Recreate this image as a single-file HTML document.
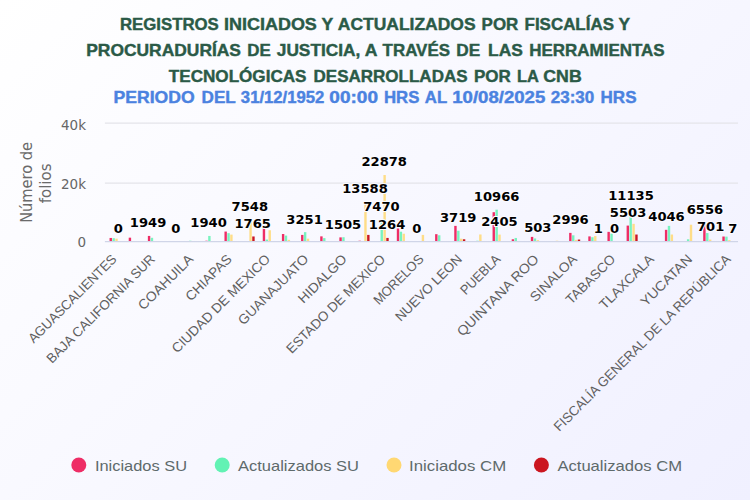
<!DOCTYPE html>
<html lang="es"><head><meta charset="utf-8"><title>Registros</title>
<style>
html,body{margin:0;padding:0;background:#fff}
body{width:750px;height:500px;overflow:hidden}
svg{display:block}
.t{font-family:"Liberation Sans",sans-serif;font-weight:bold;font-size:15.9px;fill:#2b5a47;stroke:#2b5a47;stroke-width:.4px}
.st{font-family:"Liberation Sans",sans-serif;font-weight:bold;font-size:15.9px;fill:#4b82e0;stroke:#4b82e0;stroke-width:.4px}
.yl{font-family:"DejaVu Sans","Liberation Sans",sans-serif;font-size:13.5px;fill:#666;text-anchor:end}
.yt{font-family:"DejaVu Sans","Liberation Sans",sans-serif;font-size:15px;fill:#6a6a6a;text-anchor:middle}
.xl{font-family:"Liberation Sans",sans-serif;font-size:13.5px;fill:#606060;text-anchor:end}
.dl{font-family:"DejaVu Sans","Liberation Sans",sans-serif;font-weight:bold;font-size:13.1px;fill:#000;text-anchor:middle;stroke:#fbfbff;stroke-width:2.2px;stroke-linejoin:round;paint-order:stroke}
.lg{font-family:"Liberation Sans",sans-serif;font-size:15px;fill:#5e6a6b}
</style></head><body>
<svg width="750" height="500" viewBox="0 0 750 500">
<defs><linearGradient id="bg" gradientUnits="userSpaceOnUse" x1="0" y1="0" x2="625" y2="625"><stop offset="0" stop-color="#ffffff"/><stop offset="1" stop-color="#f0f0ff"/></linearGradient></defs>
<rect x="0" y="0" width="750" height="500" fill="url(#bg)"/>
<g>
<text class="t" x="119.91" y="29.7" textLength="98.90" lengthAdjust="spacingAndGlyphs">REGISTROS</text>
<text class="t" x="223.99" y="29.7" textLength="92.86" lengthAdjust="spacingAndGlyphs">INICIADOS</text>
<text class="t" x="321.53" y="29.7" textLength="11.77" lengthAdjust="spacingAndGlyphs">Y</text>
<text class="t" x="337.79" y="29.7" textLength="137.79" lengthAdjust="spacingAndGlyphs">ACTUALIZADOS</text>
<text class="t" x="481.57" y="29.7" textLength="36.76" lengthAdjust="spacingAndGlyphs">POR</text>
<text class="t" x="524.57" y="29.7" textLength="89.38" lengthAdjust="spacingAndGlyphs">FISCALÍAS</text>
<text class="t" x="618.53" y="29.7" textLength="11.57" lengthAdjust="spacingAndGlyphs">Y</text>
</g>
<g>
<text class="t" x="86.25" y="55.7" textLength="154.73" lengthAdjust="spacingAndGlyphs">PROCURADURÍAS</text>
<text class="t" x="247.30" y="55.7" textLength="23.49" lengthAdjust="spacingAndGlyphs">DE</text>
<text class="t" x="276.79" y="55.7" textLength="83.56" lengthAdjust="spacingAndGlyphs">JUSTICIA,</text>
<text class="t" x="364.78" y="55.7" textLength="12.71" lengthAdjust="spacingAndGlyphs">A</text>
<text class="t" x="382.60" y="55.7" textLength="67.38" lengthAdjust="spacingAndGlyphs">TRAVÉS</text>
<text class="t" x="456.22" y="55.7" textLength="23.94" lengthAdjust="spacingAndGlyphs">DE</text>
<text class="t" x="488.14" y="55.7" textLength="34.79" lengthAdjust="spacingAndGlyphs">LAS</text>
<text class="t" x="529.31" y="55.7" textLength="135.33" lengthAdjust="spacingAndGlyphs">HERRAMIENTAS</text>
</g>
<g>
<text class="t" x="168.79" y="82.0" textLength="137.75" lengthAdjust="spacingAndGlyphs">TECNOLÓGICAS</text>
<text class="t" x="313.56" y="82.0" textLength="154.02" lengthAdjust="spacingAndGlyphs">DESARROLLADAS</text>
<text class="t" x="473.94" y="82.0" textLength="36.86" lengthAdjust="spacingAndGlyphs">POR</text>
<text class="t" x="516.96" y="82.0" textLength="21.86" lengthAdjust="spacingAndGlyphs">LA</text>
<text class="t" x="543.32" y="82.0" textLength="38.37" lengthAdjust="spacingAndGlyphs">CNB</text>
</g>
<g>
<text class="st" x="113.48" y="103.3" textLength="81.15" lengthAdjust="spacingAndGlyphs">PERIODO</text>
<text class="st" x="201.56" y="103.3" textLength="34.21" lengthAdjust="spacingAndGlyphs">DEL</text>
<text class="st" x="240.86" y="103.3" textLength="83.42" lengthAdjust="spacingAndGlyphs">31/12/1952</text>
<text class="st" x="329.33" y="103.3" textLength="48.65" lengthAdjust="spacingAndGlyphs">00:00</text>
<text class="st" x="383.96" y="103.3" textLength="35.41" lengthAdjust="spacingAndGlyphs">HRS</text>
<text class="st" x="424.82" y="103.3" textLength="22.32" lengthAdjust="spacingAndGlyphs">AL</text>
<text class="st" x="452.27" y="103.3" textLength="92.96" lengthAdjust="spacingAndGlyphs">10/08/2025</text>
<text class="st" x="550.82" y="103.3" textLength="43.42" lengthAdjust="spacingAndGlyphs">23:30</text>
<text class="st" x="600.57" y="103.3" textLength="35.96" lengthAdjust="spacingAndGlyphs">HRS</text>
</g>
<line x1="104.9" x2="738.0" y1="123.1" y2="123.1" stroke="#e4e4ea" stroke-width="1.25"/>
<line x1="104.9" x2="738.0" y1="183.0" y2="183.0" stroke="#e4e4ea" stroke-width="1.25"/>
<text class="yl" x="86" y="129.6">40k</text>
<text class="yl" x="86" y="188.5">20k</text>
<text class="yl" x="86" y="246.6">0</text>
<text class="yt" transform="translate(31.9,182.4) rotate(-90)" textLength="80.8" lengthAdjust="spacingAndGlyphs">Número de</text>
<text class="yt" transform="translate(50.9,183.4) rotate(-90)">folios</text>
<g>
<rect x="109.55" y="237.96" width="2.4" height="3.14" fill="#ee2d66"/>
<rect x="112.44" y="238.17" width="2.4" height="2.93" fill="#62f2b4" fill-opacity=".85"/>
<rect x="115.31" y="238.69" width="2.4" height="2.41" fill="#ffd873" fill-opacity=".85"/>
<rect x="128.71" y="237.67" width="2.4" height="3.43" fill="#ee2d66"/>
<rect x="147.86" y="235.93" width="2.4" height="5.17" fill="#ee2d66"/>
<rect x="150.74" y="237.82" width="2.4" height="3.28" fill="#62f2b4" fill-opacity=".85"/>
<rect x="189.04" y="240.73" width="2.4" height="0.37" fill="#62f2b4" fill-opacity=".85"/>
<rect x="205.31" y="240.73" width="2.4" height="0.37" fill="#ee2d66"/>
<rect x="208.19" y="235.95" width="2.4" height="5.15" fill="#62f2b4" fill-opacity=".85"/>
<rect x="224.46" y="231.56" width="2.4" height="9.54" fill="#ee2d66"/>
<rect x="227.34" y="233.16" width="2.4" height="7.94" fill="#62f2b4" fill-opacity=".85"/>
<rect x="230.22" y="234.62" width="2.4" height="6.48" fill="#ffd873" fill-opacity=".85"/>
<rect x="249.37" y="219.64" width="2.4" height="21.46" fill="#ffd873" fill-opacity=".85"/>
<rect x="252.25" y="236.46" width="2.4" height="4.64" fill="#cb1620"/>
<rect x="262.75" y="225.59" width="2.4" height="15.50" fill="#ee2d66"/>
<rect x="265.63" y="239.56" width="2.4" height="1.54" fill="#62f2b4" fill-opacity=".85"/>
<rect x="268.51" y="230.25" width="2.4" height="10.85" fill="#ffd873" fill-opacity=".85"/>
<rect x="281.90" y="234.03" width="2.4" height="7.07" fill="#ee2d66"/>
<rect x="284.78" y="235.58" width="2.4" height="5.52" fill="#62f2b4" fill-opacity=".85"/>
<rect x="287.66" y="239.85" width="2.4" height="1.25" fill="#ffd873" fill-opacity=".85"/>
<rect x="301.06" y="234.91" width="2.4" height="6.19" fill="#ee2d66"/>
<rect x="303.94" y="232.14" width="2.4" height="8.96" fill="#62f2b4" fill-opacity=".85"/>
<rect x="306.81" y="238.69" width="2.4" height="2.41" fill="#ffd873" fill-opacity=".85"/>
<rect x="320.21" y="236.36" width="2.4" height="4.74" fill="#ee2d66"/>
<rect x="323.09" y="238.11" width="2.4" height="2.99" fill="#62f2b4" fill-opacity=".85"/>
<rect x="339.36" y="237.38" width="2.4" height="3.72" fill="#ee2d66"/>
<rect x="342.24" y="237.22" width="2.4" height="3.88" fill="#62f2b4" fill-opacity=".85"/>
<rect x="358.50" y="240.73" width="2.4" height="0.37" fill="#ee2d66"/>
<rect x="364.26" y="202.06" width="2.4" height="39.04" fill="#ffd873" fill-opacity=".85"/>
<rect x="367.14" y="234.91" width="2.4" height="6.19" fill="#cb1620"/>
<rect x="380.53" y="219.86" width="2.4" height="21.24" fill="#62f2b4" fill-opacity=".85"/>
<rect x="383.41" y="175.03" width="2.4" height="66.07" fill="#ffd873" fill-opacity=".85"/>
<rect x="386.29" y="237.92" width="2.4" height="3.18" fill="#cb1620"/>
<rect x="396.81" y="228.50" width="2.4" height="12.59" fill="#ee2d66"/>
<rect x="399.69" y="231.71" width="2.4" height="9.39" fill="#62f2b4" fill-opacity=".85"/>
<rect x="402.56" y="233.74" width="2.4" height="7.36" fill="#ffd873" fill-opacity=".85"/>
<rect x="421.71" y="234.91" width="2.4" height="6.19" fill="#ffd873" fill-opacity=".85"/>
<rect x="435.11" y="234.18" width="2.4" height="6.92" fill="#ee2d66"/>
<rect x="437.99" y="235.29" width="2.4" height="5.81" fill="#62f2b4" fill-opacity=".85"/>
<rect x="454.25" y="225.89" width="2.4" height="15.21" fill="#ee2d66"/>
<rect x="457.13" y="230.78" width="2.4" height="10.32" fill="#62f2b4" fill-opacity=".85"/>
<rect x="460.01" y="238.69" width="2.4" height="2.41" fill="#ffd873" fill-opacity=".85"/>
<rect x="462.89" y="239.27" width="2.4" height="1.83" fill="#cb1620"/>
<rect x="476.28" y="240.73" width="2.4" height="0.37" fill="#62f2b4" fill-opacity=".85"/>
<rect x="479.16" y="234.47" width="2.4" height="6.63" fill="#ffd873" fill-opacity=".85"/>
<rect x="492.56" y="212.21" width="2.4" height="28.89" fill="#ee2d66"/>
<rect x="495.44" y="209.69" width="2.4" height="31.41" fill="#62f2b4" fill-opacity=".85"/>
<rect x="498.31" y="234.60" width="2.4" height="6.50" fill="#ffd873" fill-opacity=".85"/>
<rect x="511.70" y="239.27" width="2.4" height="1.83" fill="#ee2d66"/>
<rect x="514.58" y="237.96" width="2.4" height="3.14" fill="#62f2b4" fill-opacity=".85"/>
<rect x="530.85" y="236.89" width="2.4" height="4.21" fill="#ee2d66"/>
<rect x="533.73" y="238.46" width="2.4" height="2.64" fill="#62f2b4" fill-opacity=".85"/>
<rect x="536.62" y="240.14" width="2.4" height="0.96" fill="#ffd873" fill-opacity=".85"/>
<rect x="555.76" y="240.73" width="2.4" height="0.37" fill="#ffd873" fill-opacity=".85"/>
<rect x="569.15" y="232.88" width="2.4" height="8.22" fill="#ee2d66"/>
<rect x="572.03" y="235.31" width="2.4" height="5.79" fill="#62f2b4" fill-opacity=".85"/>
<rect x="574.91" y="239.85" width="2.4" height="1.25" fill="#ffd873" fill-opacity=".85"/>
<rect x="577.79" y="239.56" width="2.4" height="1.54" fill="#cb1620"/>
<rect x="588.30" y="236.39" width="2.4" height="4.71" fill="#ee2d66"/>
<rect x="591.18" y="237.23" width="2.4" height="3.87" fill="#62f2b4" fill-opacity=".85"/>
<rect x="594.07" y="236.07" width="2.4" height="5.03" fill="#ffd873" fill-opacity=".85"/>
<rect x="607.45" y="231.85" width="2.4" height="9.25" fill="#ee2d66"/>
<rect x="610.33" y="233.63" width="2.4" height="7.47" fill="#62f2b4" fill-opacity=".85"/>
<rect x="626.60" y="225.59" width="2.4" height="15.51" fill="#ee2d66"/>
<rect x="629.48" y="209.20" width="2.4" height="31.90" fill="#62f2b4" fill-opacity=".85"/>
<rect x="632.37" y="223.85" width="2.4" height="17.25" fill="#ffd873" fill-opacity=".85"/>
<rect x="635.25" y="234.53" width="2.4" height="6.57" fill="#cb1620"/>
<rect x="664.90" y="229.83" width="2.4" height="11.27" fill="#ee2d66"/>
<rect x="667.78" y="225.89" width="2.4" height="15.21" fill="#62f2b4" fill-opacity=".85"/>
<rect x="670.66" y="234.53" width="2.4" height="6.57" fill="#ffd873" fill-opacity=".85"/>
<rect x="686.93" y="239.27" width="2.4" height="1.83" fill="#62f2b4" fill-opacity=".85"/>
<rect x="689.81" y="224.72" width="2.4" height="16.38" fill="#ffd873" fill-opacity=".85"/>
<rect x="703.20" y="222.52" width="2.4" height="18.58" fill="#ee2d66"/>
<rect x="706.08" y="233.04" width="2.4" height="8.06" fill="#62f2b4" fill-opacity=".85"/>
<rect x="708.96" y="239.56" width="2.4" height="1.54" fill="#ffd873" fill-opacity=".85"/>
<rect x="722.35" y="236.51" width="2.4" height="4.59" fill="#ee2d66"/>
<rect x="725.23" y="236.65" width="2.4" height="4.45" fill="#62f2b4" fill-opacity=".85"/>
<rect x="728.12" y="240.14" width="2.4" height="0.96" fill="#ffd873" fill-opacity=".85"/>
</g>
<line x1="104.9" x2="738.0" y1="241.5" y2="241.5" stroke="#d0d5e8" stroke-width="1.25"/>
<text class="xl" transform="translate(117.5,260.0) rotate(-45)" textLength="118.6" lengthAdjust="spacingAndGlyphs">AGUASCALIENTES</text>
<text class="xl" transform="translate(155.9,260.0) rotate(-45)" textLength="147.1" lengthAdjust="spacingAndGlyphs">BAJA CALIFORNIA SUR</text>
<text class="xl" transform="translate(194.2,260.0) rotate(-45)" textLength="71.7" lengthAdjust="spacingAndGlyphs">COAHUILA</text>
<text class="xl" transform="translate(232.6,260.0) rotate(-45)" textLength="58.9" lengthAdjust="spacingAndGlyphs">CHIAPAS</text>
<text class="xl" transform="translate(271.0,260.0) rotate(-45)" textLength="132.7" lengthAdjust="spacingAndGlyphs">CIUDAD DE MEXICO</text>
<text class="xl" transform="translate(309.3,260.0) rotate(-45)" textLength="92.9" lengthAdjust="spacingAndGlyphs">GUANAJUATO</text>
<text class="xl" transform="translate(347.7,260.0) rotate(-45)" textLength="62.4" lengthAdjust="spacingAndGlyphs">HIDALGO</text>
<text class="xl" transform="translate(386.1,260.0) rotate(-45)" textLength="133.3" lengthAdjust="spacingAndGlyphs">ESTADO DE MEXICO</text>
<text class="xl" transform="translate(424.5,260.0) rotate(-45)" textLength="64.5" lengthAdjust="spacingAndGlyphs">MORELOS</text>
<text class="xl" transform="translate(462.8,260.0) rotate(-45)" textLength="87.8" lengthAdjust="spacingAndGlyphs">NUEVO LEON</text>
<text class="xl" transform="translate(501.2,260.0) rotate(-45)" textLength="50.2" lengthAdjust="spacingAndGlyphs">PUEBLA</text>
<text class="xl" transform="translate(539.6,260.0) rotate(-45)" textLength="108.9" lengthAdjust="spacingAndGlyphs">QUINTANA ROO</text>
<text class="xl" transform="translate(577.9,260.0) rotate(-45)" textLength="60.0" lengthAdjust="spacingAndGlyphs">SINALOA</text>
<text class="xl" transform="translate(616.3,260.0) rotate(-45)" textLength="63.8" lengthAdjust="spacingAndGlyphs">TABASCO</text>
<text class="xl" transform="translate(654.7,260.0) rotate(-45)" textLength="70.7" lengthAdjust="spacingAndGlyphs">TLAXCALA</text>
<text class="xl" transform="translate(693.0,260.0) rotate(-45)" textLength="66.6" lengthAdjust="spacingAndGlyphs">YUCATAN</text>
<text class="xl" transform="translate(731.4,260.0) rotate(-45)" textLength="243.3" lengthAdjust="spacingAndGlyphs">FISCALÍA GENERAL DE LA REPÚBLICA</text>
<text class="dl" x="118.3" y="233.1">0</text>
<text class="dl" x="148.1" y="227.3">1949</text>
<text class="dl" x="175.9" y="233.1">0</text>
<text class="dl" x="208.6" y="227.4">1940</text>
<text class="dl" x="249.8" y="210.8">7548</text>
<text class="dl" x="252.7" y="227.9">1765</text>
<text class="dl" x="304.6" y="223.5">3251</text>
<text class="dl" x="343.0" y="228.7">1505</text>
<text class="dl" x="365.0" y="192.9">13588</text>
<text class="dl" x="381.4" y="211.0">7470</text>
<text class="dl" x="384.2" y="165.5">22878</text>
<text class="dl" x="387.1" y="229.4">1264</text>
<text class="dl" x="416.9" y="233.1">0</text>
<text class="dl" x="458.2" y="222.1">3719</text>
<text class="dl" x="496.6" y="200.7">10966</text>
<text class="dl" x="499.4" y="226.0">2405</text>
<text class="dl" x="537.8" y="231.6">503</text>
<text class="dl" x="570.5" y="224.2">2996</text>
<text class="dl" x="598.3" y="233.1">1</text>
<text class="dl" x="614.6" y="233.1">0</text>
<text class="dl" x="631.0" y="200.2">11135</text>
<text class="dl" x="628.1" y="216.8">5503</text>
<text class="dl" x="666.5" y="221.1">4046</text>
<text class="dl" x="704.9" y="213.7">6556</text>
<text class="dl" x="710.6" y="231.0">701</text>
<text class="dl" x="732.7" y="233.1">7</text>
<circle cx="78.8" cy="465" r="7.5" fill="#ee2d66"/>
<text class="lg" x="94.9" y="470.6" textLength="92.2" lengthAdjust="spacingAndGlyphs">Iniciados SU</text>
<circle cx="222.2" cy="465" r="7.5" fill="#62f2b4"/>
<text class="lg" x="238" y="470.6" textLength="121" lengthAdjust="spacingAndGlyphs">Actualizados SU</text>
<circle cx="394" cy="465" r="7.5" fill="#ffd873"/>
<text class="lg" x="409" y="470.6" textLength="97.2" lengthAdjust="spacingAndGlyphs">Iniciados CM</text>
<circle cx="541.4" cy="465" r="7.5" fill="#cb1620"/>
<text class="lg" x="557.4" y="470.6" textLength="124.6" lengthAdjust="spacingAndGlyphs">Actualizados CM</text>
</svg></body></html>
